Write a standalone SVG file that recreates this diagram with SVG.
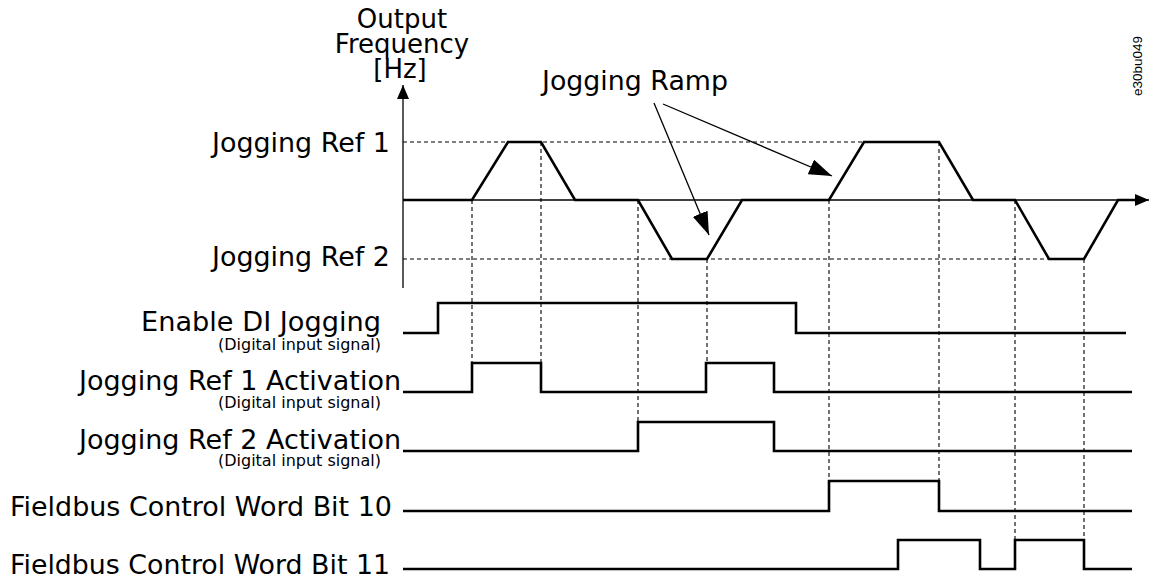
<svg xmlns="http://www.w3.org/2000/svg" width="1149" height="580" viewBox="0 0 1149 580">
<style>
  .lbl { font-family: "DejaVu Sans", Verdana, sans-serif; font-size: 26px; fill: #000; }
  .sub { font-family: "DejaVu Sans", Verdana, sans-serif; font-size: 15.5px; fill: #000; }
  .code { font-family: "Liberation Sans", Arial, sans-serif; font-size: 13.5px; fill: #000; }
  .sig { fill: none; stroke: #000; stroke-width: 2.6; stroke-linejoin: miter; }
  .axis { fill: none; stroke: #000; stroke-width: 1.3; }
  .guide { fill: none; stroke: #000; stroke-width: 1.1; stroke-dasharray: 4 3; }
  .ptr { fill: none; stroke: #000; stroke-width: 1.3; }
</style>
<defs>
  <marker id="axisHead" markerUnits="userSpaceOnUse" markerWidth="14" markerHeight="12" refX="14" refY="6" orient="auto">
    <path d="M0,0 L14,6 L0,12 z" fill="#000"/>
  </marker>
  <marker id="ptrHead" markerUnits="userSpaceOnUse" markerWidth="23" markerHeight="16" refX="23" refY="8" orient="auto">
    <path d="M0,0 L23,8 L0,16 z" fill="#000"/>
  </marker>
</defs>
<rect width="1149" height="580" fill="#fff"/>

<g id="connectors">
  <path class="guide" d="M403,142 H864 M403,259 H1049"/>
  <path class="guide" d="M472,200 V363 M541,142 V363 M638,200 V422 M707,259 V363 M829,200 V481 M939,142 V481 M1015,200 V540 M1084,259 V540"/>
  <line class="ptr" x1="654" y1="103" x2="709" y2="235" marker-end="url(#ptrHead)"/>
  <line class="ptr" x1="663" y1="104" x2="832" y2="176" marker-end="url(#ptrHead)"/>
</g>

<g id="axes">
  <line class="axis" x1="403" y1="288" x2="403" y2="85" marker-end="url(#axisHead)"/>
  <line class="axis" x1="403" y1="200" x2="1149" y2="200" marker-end="url(#axisHead)"/>
  <text class="lbl" x="402" y="28" text-anchor="middle">Output</text>
  <text class="lbl" x="402" y="53" text-anchor="middle">Frequency</text>
  <text class="lbl" x="400" y="78" text-anchor="middle">[Hz]</text>
</g>

<g id="output-frequency">
  <path class="sig" d="M403,200 L472,200 L508,142 L541,142 L575,200 L638,200 L672,259 L707,259 L742,200 L829,200 L864,142 L939,142 L973,200 L1015,200 L1049,259 L1084,259 L1118,200 L1137,200"/>
  <text class="lbl" x="390" y="152" text-anchor="end" textLength="178" lengthAdjust="spacingAndGlyphs">Jogging Ref 1</text>
  <text class="lbl" x="390" y="266" text-anchor="end" textLength="178" lengthAdjust="spacingAndGlyphs">Jogging Ref 2</text>
</g>

<g id="jogging-ramp">
  <text class="lbl" x="542" y="90" textLength="186" lengthAdjust="spacingAndGlyphs">Jogging Ramp</text>
</g>

<g id="enable-di-jogging">
  <path class="sig" d="M403,333 H438 V303 H796 V333 H1126"/>
  <text class="lbl" x="381" y="331" text-anchor="end" textLength="240" lengthAdjust="spacingAndGlyphs">Enable DI Jogging</text>
  <text class="sub" x="381" y="350" text-anchor="end" textLength="163" lengthAdjust="spacingAndGlyphs">(Digital input signal)</text>
</g>

<g id="ref1-activation">
  <path class="sig" d="M403,392 H472 V363 H541 V392 H706 V363 H774 V392 H1132"/>
  <text class="lbl" x="401" y="390" text-anchor="end" textLength="322" lengthAdjust="spacingAndGlyphs">Jogging Ref 1 Activation</text>
  <text class="sub" x="381" y="408" text-anchor="end" textLength="163" lengthAdjust="spacingAndGlyphs">(Digital input signal)</text>
</g>

<g id="ref2-activation">
  <path class="sig" d="M403,451 H638 V422 H774 V451 H1132"/>
  <text class="lbl" x="401" y="449" text-anchor="end" textLength="322" lengthAdjust="spacingAndGlyphs">Jogging Ref 2 Activation</text>
  <text class="sub" x="381" y="466" text-anchor="end" textLength="163" lengthAdjust="spacingAndGlyphs">(Digital input signal)</text>
</g>

<g id="fieldbus-bit10">
  <path class="sig" d="M403,511 H829 V481 H939 V511 H1132"/>
  <text class="lbl" x="10" y="516" textLength="382" lengthAdjust="spacingAndGlyphs">Fieldbus Control Word Bit 10</text>
</g>

<g id="fieldbus-bit11">
  <path class="sig" d="M403,569 H898 V540 H980 V569 H1015 V540 H1084 V569 H1132"/>
  <text class="lbl" x="10" y="574" textLength="380" lengthAdjust="spacingAndGlyphs">Fieldbus Control Word Bit 11</text>
</g>

<g id="figure-code">
  <text class="code" transform="translate(1142,96) rotate(-90)">e30bu049</text>
</g>
</svg>
